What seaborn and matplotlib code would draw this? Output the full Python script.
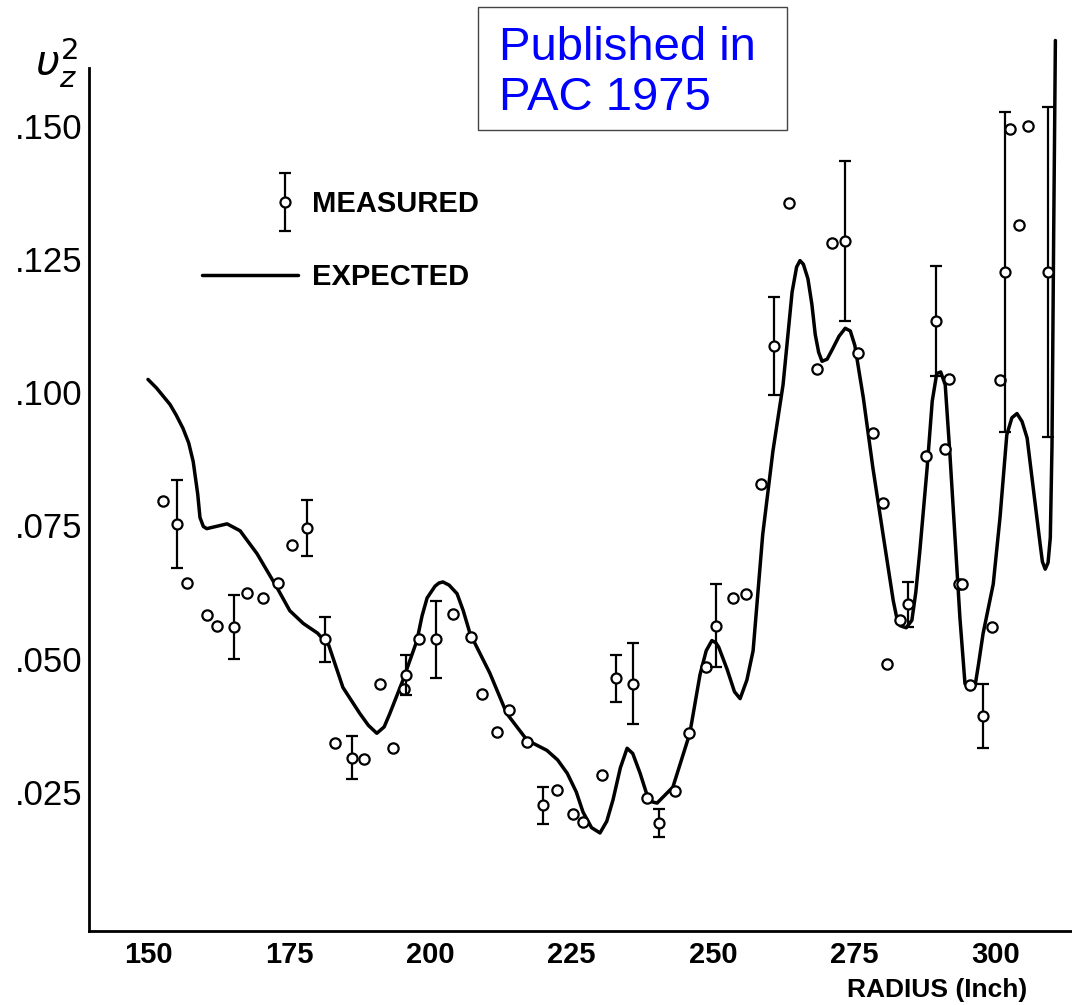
import numpy as np
import pandas as pd
import matplotlib
matplotlib.use("Agg")
import matplotlib.pyplot as plt
from matplotlib.patches import Rectangle
from matplotlib.legend_handler import HandlerErrorbar
import seaborn as sns

# ---------------- data ----------------
radius_meas = [152.7, 155.1, 156.9, 160.4, 162.2, 165.2, 167.5, 170.4, 173.0, 175.5,
               178.1, 181.4, 183.1, 186.1, 188.2, 191.1, 193.4, 195.3, 195.7, 198.0,
               201.0, 204.0, 207.2, 209.1, 211.8, 213.9, 217.1, 220.0, 222.4, 225.2,
               227.0, 230.4, 232.8, 235.8, 238.3, 240.4, 243.3, 245.8, 248.8, 250.5,
               253.5, 255.8, 258.5, 260.8, 263.5, 268.4, 271.1, 273.4, 275.6, 278.3,
               280.1, 280.8, 283.1, 284.5, 287.7, 289.5, 291.1, 291.8, 293.6, 294.1,
               295.5, 297.8, 299.4, 300.8, 301.7, 302.6, 304.2, 305.8, 309.3]
v2_meas = [0.0796, 0.0753, 0.0642, 0.0582, 0.0562, 0.0559, 0.0624, 0.0614, 0.0642, 0.0713,
           0.0745, 0.0536, 0.0341, 0.0314, 0.0312, 0.0453, 0.0332, 0.0444, 0.0469, 0.0536,
           0.0536, 0.0584, 0.0540, 0.0433, 0.0362, 0.0403, 0.0343, 0.0225, 0.0254, 0.0209,
           0.0194, 0.0282, 0.0463, 0.0453, 0.0239, 0.0192, 0.0251, 0.0361, 0.0484, 0.0562,
           0.0613, 0.0622, 0.0828, 0.1086, 0.1355, 0.1043, 0.1280, 0.1284, 0.1073, 0.0924,
           0.0793, 0.0490, 0.0572, 0.0602, 0.0881, 0.1133, 0.0893, 0.1024, 0.0640, 0.0640,
           0.0450, 0.0392, 0.0560, 0.1023, 0.1226, 0.1493, 0.1313, 0.1500, 0.1226]
v2_err = [0.0, 0.0082, 0.0, 0.0, 0.0, 0.0060, 0.0, 0.0, 0.0, 0.0,
          0.0052, 0.0042, 0.0, 0.0040, 0.0, 0.0, 0.0, 0.0, 0.0037, 0.0,
          0.0073, 0.0, 0.0, 0.0, 0.0, 0.0, 0.0, 0.0035, 0.0, 0.0,
          0.0, 0.0, 0.0044, 0.0076, 0.0, 0.0026, 0.0, 0.0, 0.0, 0.0078,
          0.0, 0.0, 0.0, 0.0092, 0.0, 0.0, 0.0, 0.0150, 0.0, 0.0,
          0.0, 0.0, 0.0, 0.0042, 0.0, 0.0103, 0.0, 0.0, 0.0, 0.0,
          0.0, 0.0060, 0.0, 0.0, 0.0300, 0.0, 0.0, 0.0, 0.0310]

radius_exp = [150.0, 151.5, 153.9, 155.0, 156.2, 157.2, 158.0, 158.8, 159.2, 159.8,
              160.4, 162.0, 164.0, 166.3, 169.3, 172.8, 175.1, 177.5, 180.0, 182.0,
              184.5, 187.5, 189.0, 190.5, 191.8, 192.8, 195.1, 197.6, 198.5, 199.4,
              200.8, 201.5, 202.2, 203.3, 204.7, 205.8, 207.0, 210.5, 213.5, 217.1,
              220.6, 222.5, 224.2, 225.8, 227.0, 228.5, 230.0, 231.2, 232.3, 233.6,
              234.8, 235.8, 237.1, 238.3, 239.0, 240.1, 242.9, 245.9, 247.7, 248.8,
              249.8, 250.5, 251.0, 252.5, 253.8, 254.8, 256.0, 257.1, 258.8, 260.6,
              262.4, 264.0, 264.8, 265.4, 266.0, 266.8, 267.5, 268.1, 268.7, 269.3,
              270.2, 271.2, 272.3, 273.4, 274.3, 275.1, 276.6, 278.3, 280.1, 281.9,
              282.5, 283.1, 284.2, 285.2, 285.9, 286.6, 287.9, 288.8, 289.6, 290.3,
              291.1, 291.9, 292.8, 293.7, 294.6, 295.5, 296.4, 297.0, 297.8, 299.6,
              300.8, 302.0, 302.9, 303.8, 304.7, 305.6, 306.6, 307.9, 308.3, 308.8,
              309.3, 309.7, 310.0, 310.3, 310.6]
v2_exp = [0.1024, 0.1008, 0.0977, 0.0957, 0.0932, 0.0905, 0.0870, 0.0809, 0.0765, 0.0748,
          0.0744, 0.0748, 0.0753, 0.0740, 0.0697, 0.0634, 0.0590, 0.0566, 0.0548, 0.0525,
          0.0446, 0.0397, 0.0375, 0.0360, 0.0372, 0.0397, 0.0459, 0.0534, 0.0580, 0.0614,
          0.0636, 0.0642, 0.0644, 0.0638, 0.0622, 0.0590, 0.0547, 0.0473, 0.0397, 0.0347,
          0.0328, 0.0310, 0.0285, 0.0250, 0.0212, 0.0183, 0.0173, 0.0195, 0.0235, 0.0295,
          0.0332, 0.0322, 0.0285, 0.0245, 0.0232, 0.0229, 0.0259, 0.0360, 0.0470, 0.0515,
          0.0534, 0.0530, 0.0522, 0.0480, 0.0438, 0.0425, 0.0460, 0.0515, 0.0733, 0.0889,
          0.1014, 0.1188, 0.1235, 0.1247, 0.1240, 0.1213, 0.1165, 0.1108, 0.1075, 0.1058,
          0.1062, 0.1082, 0.1105, 0.1120, 0.1115, 0.1088, 0.0990, 0.0858, 0.0733, 0.0609,
          0.0578, 0.0562, 0.0558, 0.0572, 0.0625, 0.0701, 0.0858, 0.0983, 0.1035, 0.1038,
          0.1014, 0.0889, 0.0733, 0.0577, 0.0453, 0.0442, 0.0450, 0.0490, 0.0547, 0.0640,
          0.0765, 0.0920, 0.0952, 0.0960, 0.0945, 0.0914, 0.0827, 0.0715, 0.0682, 0.0668,
          0.0680, 0.0727, 0.0900, 0.1300, 0.1660]

xtick_vals = [150, 175, 200, 225, 250, 275, 300]
xtick_labels = ["150", "175", "200", "225", "250", "275", "300"]
ytick_vals = [0.025, 0.050, 0.075, 0.100, 0.125, 0.150]
ytick_labels = [".025", ".050", ".075", ".100", ".125", ".150"]

legend_labels = ["MEASURED", "EXPECTED"]
x_title = "RADIUS (Inch)"
y_title = r"$\upsilon_z^2$"
note_lines = ["Published in", "PAC 1975"]

# ---------------- figure ----------------
sns.set_theme(style="white")
plt.rcParams["font.family"] = ["Liberation Sans", "DejaVu Sans"]
plt.rcParams["mathtext.fontset"] = "dejavusans"
plt.rcParams["text.color"] = "black"
plt.rcParams["axes.labelcolor"] = "black"
plt.rcParams["xtick.color"] = "black"
plt.rcParams["ytick.color"] = "black"

W, H = 1072, 1005
fig = plt.figure(figsize=(W / 100, H / 100), dpi=100)
fig.patch.set_facecolor("white")
ax = fig.add_axes([89 / W, 74 / H, 983 / W, 931 / H])
ax.set_facecolor("white")

meas = pd.DataFrame({"r": radius_meas, "v": v2_meas, "e": v2_err})
exp = pd.DataFrame({"r": radius_exp, "v": v2_exp})

sns.lineplot(data=exp, x="r", y="v", ax=ax, color="black", lw=2.5,
             sort=False, estimator=None, zorder=2,
             solid_joinstyle="round", solid_capstyle="round")
line_handle = ax.lines[0]

plain = meas[meas["e"] == 0]
witherr = meas[meas["e"] > 0]
sns.scatterplot(data=plain, x="r", y="v", ax=ax, marker="o", s=55,
                facecolor="white", edgecolor="black", linewidth=1.6, zorder=4)
err_handle = ax.errorbar(witherr["r"], witherr["v"], yerr=witherr["e"], fmt="o",
                         ms=7.2, mfc="white", mec="black", mew=1.6,
                         ecolor="black", elinewidth=1.6, capsize=4, capthick=2.2,
                         zorder=4)

ax.set_xlim(139.56, 313.54)
ax.set_ylim(-0.0011, 0.1736)

ax.set_xticks(xtick_vals)
ax.set_xticklabels(xtick_labels)
ax.set_yticks(ytick_vals)
ax.set_yticklabels(ytick_labels)

ax.tick_params(axis="both", direction="in", length=10, width=2, color="black",
               colors="black")
ax.tick_params(axis="x", labelsize=21, pad=7)
ax.tick_params(axis="y", labelsize=25, pad=5)
for lab in ax.get_xticklabels():
    lab.set_fontweight("bold")

for s in ["top", "right"]:
    ax.spines[s].set_visible(False)
for s in ["left", "bottom"]:
    ax.spines[s].set_color("black")
    ax.spines[s].set_linewidth(2)
ax.spines["left"].set_bounds(-0.0011, 0.1609)

ax.set_xlabel(x_title, fontsize=19, fontweight="bold", color="black")
ax.xaxis.set_label_coords((937 - 89) / 983, (931 - 978) / 931)
ax.set_ylabel("")

fig.text(57 / W, 1 - 62 / H, y_title, fontsize=30, color="black",
         ha="center", va="center")

# legend (two blocks, as in the original)
leg1 = ax.legend([err_handle], [legend_labels[0]], loc="center left",
                 bbox_to_anchor=(270 / W, 1 - 204 / H), bbox_transform=fig.transFigure,
                 frameon=False, borderpad=0, borderaxespad=0, handlelength=1.0,
                 handletextpad=0.45, prop={"weight": "bold", "size": 21},
                 labelcolor="black",
                 handler_map={type(err_handle): HandlerErrorbar(yerr_size=1.0)})
ax.add_artist(leg1)
leg2 = ax.legend([line_handle], [legend_labels[1]], loc="center left",
                 bbox_to_anchor=(202 / W, 1 - 277 / H), bbox_transform=fig.transFigure,
                 frameon=False, borderpad=0, borderaxespad=0, handlelength=3.29,
                 handletextpad=0.48, prop={"weight": "bold", "size": 21},
                 labelcolor="black")

# note box
fig.patches.append(Rectangle((478 / W, 1 - 130 / H), 309 / W, 123 / H,
                             transform=fig.transFigure, facecolor="white",
                             edgecolor="#444444", linewidth=1.0, zorder=5))
fig.text(499 / W, 1 - 60 / H, note_lines[0], fontsize=34, color="#0000ff",
         ha="left", va="baseline", zorder=6)
fig.text(499 / W, 1 - 110 / H, note_lines[1], fontsize=34, color="#0000ff",
         ha="left", va="baseline", zorder=6)

fig.savefig("out.png", dpi=100, facecolor="white")
